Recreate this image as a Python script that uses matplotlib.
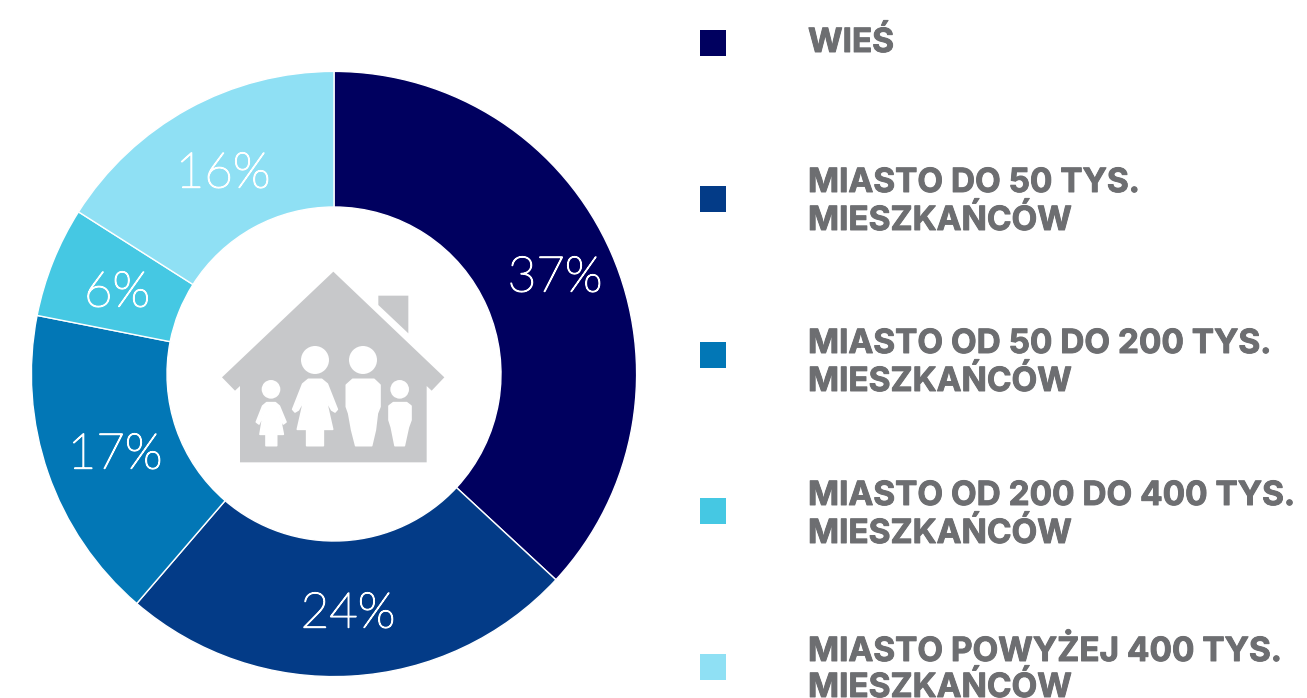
import matplotlib
matplotlib.use("Agg")
import matplotlib.pyplot as plt
import matplotlib.patheffects as pe
from matplotlib.patches import Polygon, Circle, Rectangle

# dane
kategorie = [
    "WIEŚ",
    "MIASTO DO 50 TYS.\nMIESZKAŃCÓW",
    "MIASTO OD 50 DO 200 TYS.\nMIESZKAŃCÓW",
    "MIASTO OD 200 DO 400 TYS.\nMIESZKAŃCÓW",
    "MIASTO POWYŻEJ 400 TYS.\nMIESZKAŃCÓW",
]
wartosci = [36.9, 24.4, 16.8, 5.9, 16.0]
kolory = ["#00005f", "#033b87", "#0277b6", "#45c8e3", "#8fe0f4"]

W, H = 1307, 698

fig = plt.figure(figsize=(W / 100, H / 100), dpi=100)
ax = fig.add_axes([0, 0, 1, 1])


def py(y):
    return H - y


# wykres kolowy
ax.pie(
    wartosci,
    colors=kolory,
    startangle=90,
    counterclock=False,
    center=(334, py(374)),
    radius=302.6,
    frame=True,
    wedgeprops=dict(width=135.6, edgecolor="white", linewidth=1.0),
)
ax.set_xlim(0, W)
ax.set_ylim(0, H)
ax.set_aspect("equal")
ax.axis("off")

# etykiety procentowe
pozycje = [(555, 278), (348, 614), (115, 455), (117, 293), (223, 174)]
for v, (x, y) in zip(wartosci, pozycje):
    ax.text(x, py(y), f"{v:.0f}%", color="white", fontsize=35.5, family="Lato",
            weight="light", ha="center", va="center",
            path_effects=[pe.withStroke(linewidth=1.0, foreground="white")])

# legenda
bazy = [[52], [192, 230], [353, 391], [505, 543], [661, 697]]
for i, (k, c) in enumerate(zip(kategorie, kolory)):
    y0 = 30 + 156 * i
    ax.add_patch(Rectangle((700, py(y0 + 26)), 26, 26, color=c, lw=0))
    for t, b in zip(k.split("\n"), bazy[i]):
        ax.text(808, py(b), t, color="#6d6e71", fontsize=24, family="Inter",
                weight="bold", ha="left", va="baseline",
                path_effects=[pe.withStroke(linewidth=0.7, foreground="#6d6e71")])


# ikona domu (wspolrzedne w pikselach obrazka)
def pts(lista, ox=200, oy=250, s=3):
    return [(ox + x / s, py(oy + y / s)) for x, y in lista]


szary = "#c7c8ca"
dom = [(400, 65), (733, 382), (695, 422), (680, 408), (680, 637), (120, 637),
       (120, 408), (105, 422), (66, 382)]
komin = [(535, 137), (625, 137), (625, 250), (535, 165)]
ax.add_patch(Polygon(pts(dom), closed=True, color=szary, lw=0))
ax.add_patch(Polygon(pts(komin), closed=True, color=szary, lw=0))

glowy = [(345, 330, 42), (489, 330, 42), (213, 418, 28), (599, 418, 28)]
for x, y, r in glowy:
    (cx, cy), = pts([(x, y)])
    ax.add_patch(Circle((cx, cy), r / 3, color="white", lw=0))

mama = [(325, 388), (365, 388), (382, 402), (412, 478), (405, 486), (395, 480),
        (378, 450), (398, 538), (370, 538), (370, 587), (320, 587), (320, 538),
        (292, 538), (312, 450), (295, 480), (285, 486), (278, 478), (308, 402)]
tata = [(458, 388), (522, 388), (540, 405), (540, 470), (532, 490), (526, 540),
        (515, 587), (467, 587), (455, 540), (446, 490), (439, 470), (439, 405)]
corka = [(200, 458), (226, 458), (238, 468), (258, 516), (250, 522), (238, 492),
         (250, 553), (230, 553), (230, 587), (198, 587), (198, 553), (180, 553),
         (190, 492), (177, 522), (169, 516), (188, 468)]
syn = [(580, 458), (620, 458), (633, 468), (633, 510), (625, 532), (613, 587),
       (585, 587), (574, 532), (567, 510), (567, 468)]
for f in [mama, tata, corka, syn]:
    ax.add_patch(Polygon(pts(f), closed=True, facecolor="white", edgecolor="white",
                         lw=1.2, joinstyle="round"))

fig.savefig("out.png", dpi=100)
